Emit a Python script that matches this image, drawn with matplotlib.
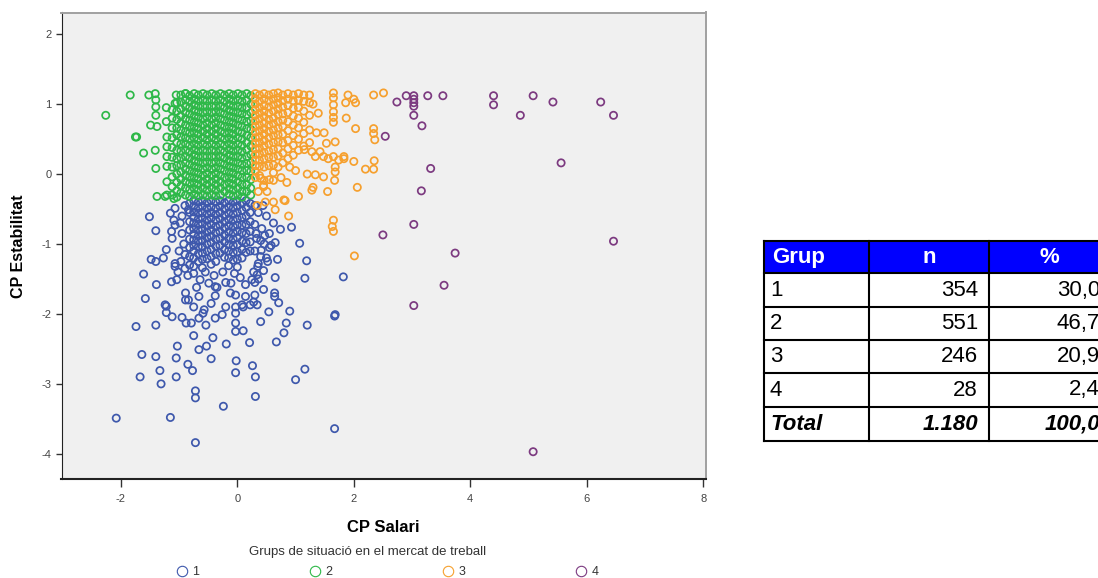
import matplotlib
matplotlib.use("Agg")
import matplotlib.pyplot as plt
from matplotlib.lines import Line2D
from matplotlib.patches import Rectangle

plt.rcParams['font.family'] = ['Liberation Sans', 'DejaVu Sans']
plt.rcParams['axes.unicode_minus'] = False

group_names = ['1', '2', '3', '4']
group_colors = ['#3E58AC', '#2EB848', '#F6A02E', '#7C3A80']

# summary table
tab_groups = ['1', '2', '3', '4']
tab_n = [354, 551, 246, 28]
tab_pct = [30.0, 46.7, 20.9, 2.4]
tab_total_n = '1.180'
tab_total_pct = '100,0'

# ---- group 1 (blue) ----
# dense block, read column by column
g1_core_x = [-0.82, -0.75, -0.67, -0.60, -0.52, -0.45, -0.37, -0.30,
             -0.22, -0.15, -0.07, 0.00, 0.08, 0.15, 0.22]
g1_core_y = [
    [-0.42, -0.55, -0.68, -0.80, -0.93, -1.05, -1.18, -1.30],
    [-0.38, -0.46, -0.54, -0.62, -0.70, -0.78, -0.86, -0.94, -1.02, -1.10, -1.20, -1.32],
    [-0.40, -0.48, -0.56, -0.64, -0.72, -0.80, -0.88, -0.96, -1.04, -1.14, -1.25],
    [-0.38, -0.46, -0.55, -0.63, -0.71, -0.79, -0.87, -0.95, -1.04, -1.13, -1.22, -1.34],
    [-0.41, -0.49, -0.57, -0.66, -0.74, -0.83, -0.91, -1.00, -1.10, -1.21],
    [-0.38, -0.47, -0.55, -0.63, -0.72, -0.80, -0.89, -0.98, -1.08, -1.18, -1.29],
    [-0.40, -0.49, -0.58, -0.66, -0.75, -0.84, -0.93, -1.03, -1.14, -1.25],
    [-0.38, -0.46, -0.55, -0.64, -0.73, -0.82, -0.92, -1.02, -1.13],
    [-0.41, -0.50, -0.59, -0.68, -0.77, -0.87, -0.97, -1.08, -1.19],
    [-0.38, -0.47, -0.56, -0.65, -0.74, -0.83, -0.92, -1.01, -1.10, -1.20, -1.31],
    [-0.40, -0.48, -0.57, -0.66, -0.75, -0.84, -0.93, -1.02, -1.12, -1.23],
    [-0.38, -0.46, -0.55, -0.64, -0.73, -0.82, -0.91, -1.01, -1.11, -1.22, -1.33],
    [-0.42, -0.52, -0.62, -0.73, -0.84, -0.96, -1.08, -1.20],
    [-0.38, -0.48, -0.60, -0.72, -0.85, -0.98, -1.12],
    [-0.42, -0.55, -0.68, -0.82, -0.97, -1.10],
]
g1_pts = [
    (0.30, -0.45), (0.36, -0.55), (0.44, -0.45), (0.50, -0.60), (0.30, -0.72),
    (0.42, -0.78), (0.55, -0.85), (0.33, -0.92), (0.46, -1.00), (0.58, -1.02),
    (0.30, -1.10), (0.40, -1.18), (0.52, -1.25), (0.35, -1.32), (0.62, -0.70),
    (0.28, -1.40), (0.45, -1.38), (0.55, -1.05), (0.50, -1.20), (0.41, -1.09),
    (0.36, -1.28), (0.30, -1.55), (0.36, -1.50), (0.30, -1.73), (0.28, -1.83),
    (0.32, -0.85), (0.40, -0.95), (0.47, -0.88),
    (-1.15, -0.56), (-1.07, -0.49), (-1.09, -0.66), (-1.07, -0.73), (-0.98, -0.70),
    (-0.84, -0.51), (-0.95, -0.85), (-0.92, -1.00), (-1.00, -1.10), (-0.90, -1.15),
    (-1.13, -0.82), (-1.12, -0.92), (-0.97, -1.25), (-0.90, -1.35), (-1.02, -1.40),
    (-0.95, -0.60), (-0.90, -0.45), (-1.22, -1.08), (-1.07, -1.32), (-1.07, -1.28),
    (-0.85, -1.45), (-0.75, -1.42), (-0.64, -1.51), (-0.49, -1.56), (-0.35, -1.62),
    (-0.55, -1.40), (-0.40, -1.45), (-0.25, -1.40), (-0.11, -1.56), (0.14, -1.58),
    (0.25, -1.51), (0.34, -1.44), (-0.05, -1.42), (0.05, -1.48), (-0.89, -1.70),
    (-0.89, -1.80), (-0.84, -1.80), (-0.75, -1.90), (-0.66, -1.75), (-0.57, -1.94),
    (-0.59, -1.99), (-0.66, -2.06), (-0.54, -2.16), (-0.38, -1.74), (-0.38, -1.61),
    (-0.38, -2.06), (-0.26, -2.01), (-0.12, -1.70), (-0.03, -1.73), (0.14, -1.75),
    (0.08, -1.87), (0.10, -1.90), (-0.03, -1.90), (-0.03, -1.99), (-0.03, -2.13),
    (-0.03, -2.25), (0.10, -2.24), (0.22, -1.87), (0.34, -1.87), (0.40, -2.11),
    (0.54, -1.97), (0.71, -1.84), (0.90, -1.96), (0.84, -2.13), (0.80, -2.27),
    (1.20, -2.16), (0.64, -1.70), (0.64, -1.75), (0.65, -1.48), (0.69, -1.22),
    (0.65, -0.98), (0.74, -0.79), (0.93, -0.76), (1.07, -0.99), (1.19, -1.24),
    (1.16, -1.49), (1.82, -1.47), (1.67, -2.03), (1.68, -2.01), (-0.75, -2.31),
    (-0.88, -2.13), (-0.79, -2.13), (-0.95, -2.05), (-1.12, -2.04), (-1.22, -1.89),
    (-1.22, -1.98), (-1.24, -1.87), (-1.13, -1.54), (-1.04, -1.51), (-0.20, -1.90),
    (-0.45, -1.85), (-0.20, -1.55), (0.45, -1.65), (-0.70, -1.62),
    (-1.51, -0.61), (-1.40, -0.81), (-1.27, -1.20), (-1.48, -1.22), (-1.40, -1.25),
    (-1.61, -1.43), (-1.39, -1.58), (-1.58, -1.78), (-1.74, -2.18), (-1.40, -2.16),
    (-1.64, -2.58), (-1.40, -2.61), (-1.05, -2.63), (-0.85, -2.72), (-0.77, -2.81),
    (-1.33, -2.81), (-1.67, -2.90), (-1.31, -3.00), (-1.05, -2.90), (-1.03, -2.46),
    (-0.66, -2.51), (-0.53, -2.46), (-0.42, -2.34), (-0.72, -3.10), (-0.72, -3.20),
    (-2.08, -3.49), (-1.15, -3.48), (-0.72, -3.84), (-0.24, -3.32), (-0.45, -2.64),
    (-0.19, -2.43), (-0.02, -2.67), (-0.03, -2.84), (0.21, -2.41), (0.26, -2.74),
    (0.31, -2.90), (0.31, -3.18), (0.67, -2.40), (1.00, -2.94), (1.16, -2.79),
    (1.67, -3.64),
]

# ---- group 2 (green) ----
g2_core_x = [-1.12, -1.04, -0.97, -0.89, -0.82, -0.74, -0.67, -0.59, -0.52, -0.44,
             -0.37, -0.29, -0.22, -0.14, -0.07, 0.01, 0.08, 0.16, 0.23]
g2_core_y = [
    [0.92, 0.80, 0.66, 0.52, 0.38, 0.24, 0.10, -0.04, -0.18, -0.30],
    [1.02, 0.90, 0.78, 0.66, 0.56, 0.45, 0.34, 0.22, 0.12, 0.00, -0.12, -0.24, -0.33],
    [1.13, 1.03, 0.93, 0.83, 0.73, 0.63, 0.53, 0.43, 0.33, 0.23, 0.13, 0.03, -0.07, -0.17, -0.27],
    [1.15, 1.06, 0.97, 0.88, 0.79, 0.70, 0.61, 0.52, 0.43, 0.34, 0.25, 0.16, 0.07, -0.02, -0.11, -0.20, -0.30],
    [1.12, 1.04, 0.95, 0.86, 0.77, 0.68, 0.59, 0.50, 0.41, 0.32, 0.23, 0.14, 0.05, -0.04, -0.13, -0.22, -0.32],
    [1.15, 1.07, 0.99, 0.91, 0.83, 0.75, 0.67, 0.59, 0.51, 0.43, 0.35, 0.27, 0.19, 0.11, 0.03, -0.05, -0.13, -0.21, -0.29],
    [1.13, 1.05, 0.97, 0.89, 0.81, 0.73, 0.65, 0.57, 0.49, 0.41, 0.33, 0.25, 0.17, 0.09, 0.01, -0.07, -0.15, -0.23, -0.31],
    [1.15, 1.06, 0.97, 0.88, 0.79, 0.70, 0.61, 0.52, 0.43, 0.34, 0.25, 0.16, 0.07, -0.02, -0.11, -0.20, -0.30],
    [1.13, 1.05, 0.97, 0.89, 0.81, 0.73, 0.65, 0.57, 0.49, 0.41, 0.33, 0.25, 0.17, 0.09, 0.01, -0.07, -0.15, -0.23, -0.31],
    [1.15, 1.06, 0.97, 0.88, 0.79, 0.70, 0.61, 0.52, 0.43, 0.34, 0.25, 0.16, 0.07, -0.02, -0.11, -0.20, -0.30],
    [1.13, 1.05, 0.97, 0.89, 0.81, 0.73, 0.65, 0.57, 0.49, 0.41, 0.33, 0.25, 0.17, 0.09, 0.01, -0.07, -0.15, -0.23, -0.31],
    [1.15, 1.06, 0.97, 0.88, 0.79, 0.70, 0.61, 0.52, 0.43, 0.34, 0.25, 0.16, 0.07, -0.02, -0.11, -0.20, -0.30],
    [1.13, 1.04, 0.95, 0.86, 0.77, 0.68, 0.59, 0.50, 0.41, 0.32, 0.23, 0.14, 0.05, -0.05, -0.15, -0.25],
    [1.15, 1.07, 0.99, 0.91, 0.83, 0.75, 0.67, 0.59, 0.51, 0.43, 0.35, 0.27, 0.19, 0.11, 0.03, -0.05, -0.13, -0.21, -0.29],
    [1.13, 1.05, 0.97, 0.89, 0.81, 0.73, 0.65, 0.57, 0.49, 0.41, 0.33, 0.25, 0.17, 0.09, 0.01, -0.07, -0.15, -0.23, -0.31],
    [1.15, 1.06, 0.97, 0.88, 0.79, 0.70, 0.61, 0.52, 0.43, 0.34, 0.25, 0.16, 0.07, -0.02, -0.11, -0.20, -0.30],
    [1.13, 1.04, 0.95, 0.86, 0.77, 0.68, 0.59, 0.50, 0.41, 0.32, 0.23, 0.14, 0.05, -0.05, -0.15, -0.25, -0.33],
    [1.15, 1.05, 0.95, 0.85, 0.75, 0.65, 0.55, 0.45, 0.35, 0.25, 0.15, 0.05, -0.05, -0.15, -0.25],
    [1.12, 1.00, 0.88, 0.76, 0.64, 0.52, 0.40, 0.28, 0.16, 0.04, -0.08, -0.20, -0.30],
]
g2_pts = [
    (-2.26, 0.84), (-1.84, 1.13), (-1.52, 1.13), (-1.41, 1.15), (-1.40, 1.06),
    (-1.40, 0.96), (-1.40, 0.84), (-1.49, 0.70), (-1.38, 0.68), (-1.75, 0.53),
    (-1.73, 0.53), (-1.61, 0.30), (-1.41, 0.34), (-1.40, 0.08), (-1.38, -0.32),
    (-1.24, -0.32), (-1.21, -0.30), (-1.09, -0.35), (-1.21, -0.11), (-1.21, 0.53),
    (-1.21, 0.39), (-1.21, 0.25), (-1.21, 0.11), (-1.22, 0.95), (-1.22, 0.75),
    (-1.07, 1.01), (-0.89, 1.15), (-1.05, 1.13),
]

# ---- group 3 (orange) ----
g3_core_x = [0.31, 0.38, 0.46, 0.54, 0.62, 0.70, 0.78, 0.87, 0.96, 1.05, 1.14, 1.24]
g3_core_y = [
    [1.15, 1.08, 1.00, 0.92, 0.84, 0.76, 0.68, 0.60, 0.52, 0.44, 0.36, 0.28, 0.20, 0.12, 0.04, -0.05],
    [1.13, 1.04, 0.95, 0.87, 0.79, 0.70, 0.62, 0.53, 0.45, 0.37, 0.29, 0.20, 0.11, -0.02],
    [1.15, 1.07, 0.98, 0.90, 0.82, 0.73, 0.65, 0.57, 0.48, 0.40, 0.31, 0.22, 0.10, -0.09],
    [1.13, 1.05, 0.96, 0.87, 0.78, 0.70, 0.61, 0.52, 0.43, 0.33, 0.24, 0.12],
    [1.15, 1.07, 0.99, 0.90, 0.80, 0.72, 0.63, 0.55, 0.45, 0.35, 0.24, 0.13, 0.02],
    [1.16, 1.09, 1.01, 0.93, 0.85, 0.75, 0.66, 0.56, 0.46, 0.36, 0.26, 0.10],
    [1.13, 1.05, 0.96, 0.86, 0.77, 0.68, 0.57, 0.45, 0.30, 0.16],
    [1.15, 1.07, 0.98, 0.88, 0.75, 0.62, 0.48, 0.36, 0.22],
    [1.13, 1.05, 0.94, 0.83, 0.70, 0.55, 0.41, 0.27],
    [1.15, 1.06, 0.95, 0.80, 0.66, 0.50, 0.34],
    [1.13, 1.04, 0.90, 0.74, 0.58, 0.40],
    [1.13, 1.02, 0.84, 0.63, 0.45],
]
g3_pts = [
    (1.39, 0.87), (1.30, 1.00), (1.36, 0.59), (1.49, 0.59), (1.53, 0.44),
    (1.68, 0.46), (1.65, 1.16), (1.65, 1.09), (1.65, 0.99), (1.65, 0.89),
    (1.65, 0.81), (1.65, 0.74), (1.90, 1.13), (1.86, 1.02), (2.03, 1.02),
    (2.00, 1.07), (2.34, 1.13), (2.51, 1.16), (1.87, 0.80), (2.03, 0.65),
    (2.34, 0.65), (2.34, 0.58), (2.36, 0.49), (2.00, 0.18), (2.20, 0.07),
    (2.34, 0.07), (2.35, 0.19), (1.83, 0.22), (1.74, 0.20), (1.65, 0.25),
    (1.83, 0.25), (1.68, 0.10), (1.68, 0.03), (1.67, -0.09), (1.48, -0.04),
    (1.34, -0.01), (1.20, 0.00), (2.06, -0.19), (1.55, -0.25), (1.30, -0.19),
    (1.05, -0.32), (0.82, -0.38), (0.88, -0.60), (0.65, -0.51), (0.62, -0.40),
    (1.65, -0.66), (1.63, -0.75), (1.65, -0.82), (2.01, -1.17), (1.28, -0.23),
    (1.15, 0.35), (1.28, 0.32), (1.42, 0.32), (1.34, 0.25), (1.48, 0.25),
    (1.56, 0.22), (0.90, 0.10), (1.00, 0.05), (0.75, -0.05), (0.85, -0.12),
    (0.55, -0.08), (0.45, -0.18), (0.51, -0.25), (0.36, -0.25), (0.48, -0.40),
    (0.34, -0.45), (0.80, -0.37), (0.40, -0.06), (0.45, -0.16), (0.62, -0.09),
]

# ---- group 4 (purple) ----
g4_pts = [
    (2.74, 1.03), (2.90, 1.12), (3.03, 1.12), (3.03, 1.07), (3.03, 1.02),
    (3.03, 0.97), (3.03, 0.84), (3.17, 0.69), (3.27, 1.12), (3.53, 1.12),
    (4.40, 1.12), (4.40, 0.99), (4.86, 0.84), (5.08, 1.12), (5.42, 1.03),
    (6.24, 1.03), (6.46, 0.84), (2.54, 0.54), (3.32, 0.08), (5.56, 0.16),
    (3.16, -0.24), (3.03, -0.72), (2.50, -0.87), (3.74, -1.13), (6.46, -0.96),
    (3.55, -1.59), (3.03, -1.88), (5.08, -3.97),
]


def expand(core_x, core_y, pts):
    xs, ys = [], []
    for x, col in zip(core_x, core_y):
        xs += [x] * len(col)
        ys += col
    xs += [p[0] for p in pts]
    ys += [p[1] for p in pts]
    return xs, ys


groups = [
    expand(g1_core_x, g1_core_y, g1_pts),
    expand(g2_core_x, g2_core_y, g2_pts),
    expand(g3_core_x, g3_core_y, g3_pts),
    expand([], [], g4_pts),
]

W, H = 1098, 578
fig = plt.figure(figsize=(W / 100, H / 100), dpi=100)
ax = fig.add_axes([61.5 / W, (H - 479) / H, 644 / W, 466.5 / H])
ax.set_facecolor('#F0F0F0')

for (xs, ys), col in zip(groups, group_colors):
    ax.scatter(xs, ys, s=27, facecolors='none', edgecolors=col, linewidths=1.25)

ax.set_xlim(-3.02, 8.04)
ax.set_ylim(-4.36, 2.31)
ax.set_xticks([-2, 0, 2, 4, 6, 8])
ax.set_yticks([-4, -3, -2, -1, 0, 1, 2])
ax.tick_params(axis='x', length=6, width=1, direction='out', color='#333333',
               labelsize=8, labelcolor='#444444', pad=5)
ax.tick_params(axis='y', length=4, width=1, direction='out', color='#333333',
               labelsize=8, labelcolor='#444444', pad=3)
for side in ['top', 'right']:
    ax.spines[side].set_color('#A0A0A0')
    ax.spines[side].set_linewidth(1.4)
ax.spines['left'].set_color('#222222')
ax.spines['bottom'].set_color('#222222')
ax.spines['bottom'].set_linewidth(1.5)

ax.set_xlabel('CP Salari', fontsize=12, fontweight='bold', va='center')
ax.xaxis.set_label_coords(0.5, -0.103)
ax.set_ylabel('CP Estabilitat', fontsize=11.5, fontweight='bold', va='center')
ax.yaxis.set_label_coords(-0.0675, 0.5)

# legend below the plot
fig.text(368 / W, 1 - 552 / H, 'Grups de situació en el mercat de treball',
         ha='center', va='center', fontsize=9.5, color='#333333')
handles = [Line2D([], [], linestyle='none', marker='o', markersize=7.5,
                  markerfacecolor='none', markeredgecolor=c, markeredgewidth=0.8)
           for c in group_colors]
fig.legend(handles, group_names, loc='center', bbox_to_anchor=(387 / W, 1 - 572 / H),
           ncol=4, frameon=False, fontsize=9, handlelength=1.0, handletextpad=0.3,
           columnspacing=8.8, labelcolor='#333333', borderpad=0)

# summary table on the right (pixel units inside its own axes)
tx0, ty0, tw, th = 764, 241, 346, 200
tab = fig.add_axes([tx0 / W, (H - ty0 - th) / H, tw / W, th / H])
tab.set_xlim(0, tw)
tab.set_ylim(th, 0)
tab.axis('off')
col_edges = [0, 105, 225, 346]
row_edges = [0, 32, 66, 99, 132, 166, 200]
tab.add_patch(Rectangle((0, 0), tw, row_edges[1], facecolor='#0000FF', edgecolor='none'))
for yv in row_edges:
    tab.plot([0, tw], [yv, yv], color='black', lw=1.5, clip_on=False)
for xv in col_edges:
    tab.plot([xv, xv], [0, th], color='black', lw=1.5, clip_on=False)

fs = 16
hy = (row_edges[0] + row_edges[1]) / 2
tab.text(8, hy, 'Grup', color='white', fontsize=fs, fontweight='bold', va='center', ha='left')
tab.text(165, hy, 'n', color='white', fontsize=fs, fontweight='bold', va='center', ha='center')
tab.text(285, hy, '%', color='white', fontsize=fs, fontweight='bold', va='center', ha='center')

body = [(g, str(n), f"{p:.1f}".replace('.', ',')) for g, n, p in zip(tab_groups, tab_n, tab_pct)]
for i, (g, n, p) in enumerate(body):
    yc = (row_edges[i + 1] + row_edges[i + 2]) / 2
    tab.text(6, yc, g, fontsize=fs, va='center', ha='left')
    tab.text(214, yc, n, fontsize=fs, va='center', ha='right')
    tab.text(336, yc, p, fontsize=fs, va='center', ha='right')
yc = (row_edges[5] + row_edges[6]) / 2
tab.text(6, yc, 'Total', fontsize=fs, fontweight='bold', style='italic', va='center', ha='left')
tab.text(214, yc, tab_total_n, fontsize=fs, fontweight='bold', style='italic', va='center', ha='right')
tab.text(336, yc, tab_total_pct, fontsize=fs, fontweight='bold', style='italic', va='center', ha='right')

fig.savefig('out.png', dpi=100)
